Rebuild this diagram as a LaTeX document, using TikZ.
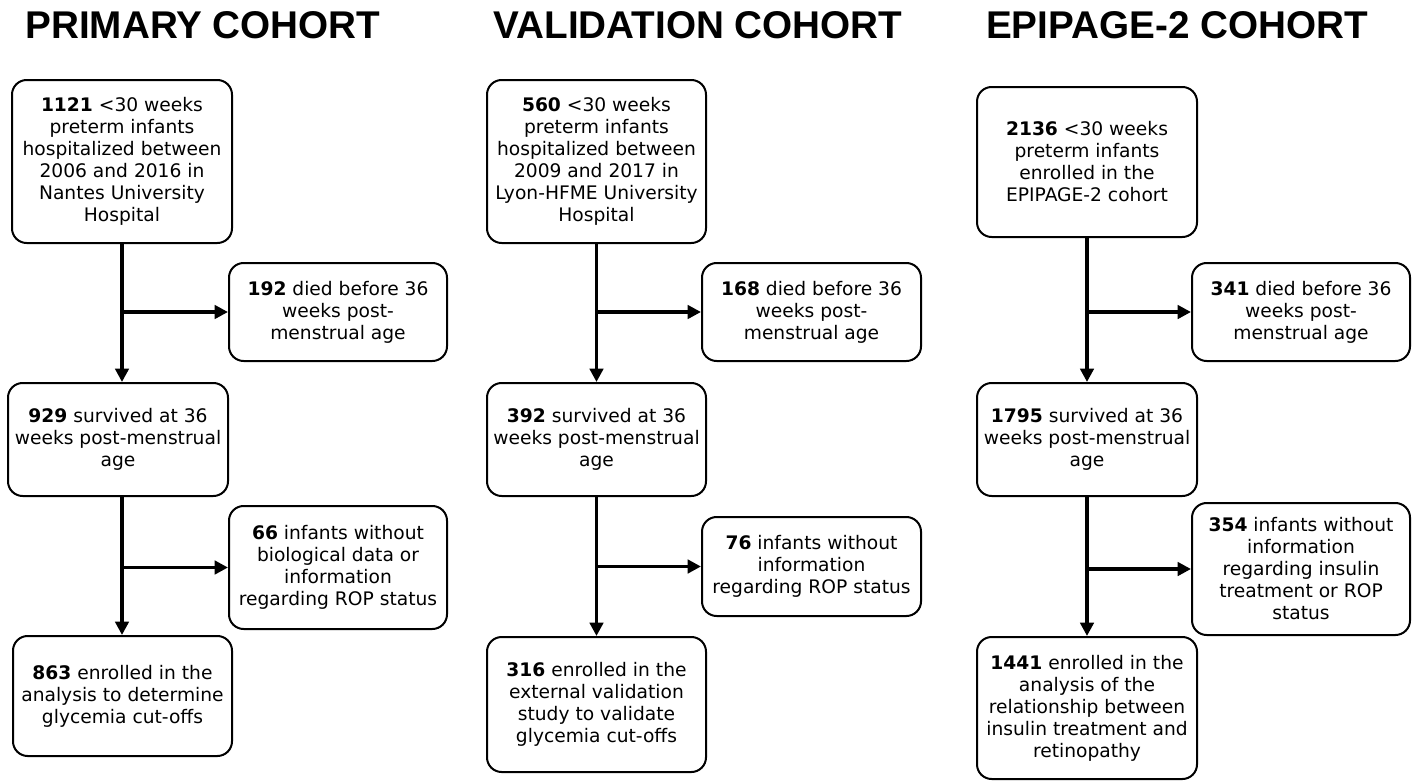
\documentclass[tikz,border=0pt]{standalone}
\usepackage{fontspec}
\setmainfont{DejaVu Sans}
\newfontfamily\titlefont{Liberation Sans}
\usetikzlibrary{arrows.meta}
\usetikzlibrary{calc}

\begin{document}
\begin{tikzpicture}[x=0.75pt,y=-0.75pt,
  box/.style={draw,line width=1.5pt,rounded corners=11pt,align=center,
    inner sep=2pt,font=\fontsize{14}{16.5}\selectfont},
  arr/.style={line width=2.7pt,-{Triangle[length=10pt,width=10pt]}},
  ttl/.style={anchor=base,font=\titlefont\bfseries\fontsize{29}{32}\selectfont}]
\useasboundingbox (0,0) rectangle (1416,782);
\node[ttl] (tA) at (203,38) {PRIMARY COHORT};
\node[ttl] (tB) at (698,38) {VALIDATION COHORT};
\node[ttl] (tC) at (1177,38) {EPIPAGE-2 COHORT};

\node[box,minimum width=165pt,minimum height=122.25pt] (A1) at (122,161.5)
  {\textbf{1121} <30 weeks\\preterm infants\\hospitalized between\\2006 and 2016 in\\Nantes University\\Hospital};
\node[box,minimum width=163.5pt,minimum height=73.5pt] (A2) at (338,312)
  {\textbf{192} died before 36\\weeks post-\\menstrual age};
\node[box,minimum width=165pt,minimum height=84.75pt] (A3) at (118,439.5)
  {\textbf{929} survived at 36\\weeks post-menstrual\\age};
\node[box,minimum width=163.5pt,minimum height=92.25pt] (A4) at (338,567.5)
  {\textbf{66} infants without\\biological data or\\information\\regarding ROP status};
\node[box,minimum width=164.25pt,minimum height=90pt] (A5) at (122.5,696)
  {\textbf{863} enrolled in the\\analysis to determine\\glycemia cut-offs};

\node[box,minimum width=164.25pt,minimum height=122.25pt] (B1) at (596.5,161.5)
  {\textbf{560} <30 weeks\\preterm infants\\hospitalized between\\2009 and 2017 in\\Lyon-HFME University\\Hospital};
\node[box,minimum width=164.25pt,minimum height=73.5pt] (B2) at (811.5,312)
  {\textbf{168} died before 36\\weeks post-\\menstrual age};
\node[box,minimum width=164.25pt,minimum height=84.75pt] (B3) at (596.5,439.5)
  {\textbf{392} survived at 36\\weeks post-menstrual\\age};
\node[box,minimum width=164.25pt,minimum height=74.25pt] (B4) at (811.5,566.5)
  {\textbf{76} infants without\\information\\regarding ROP status};
\node[box,minimum width=164.25pt,minimum height=101.25pt] (B5) at (596.5,704.5)
  {\textbf{316} enrolled in the\\external validation\\study to validate\\glycemia cut-offs};

\node[box,minimum width=165pt,minimum height=112.5pt] (C1) at (1087,162)
  {\textbf{2136} <30 weeks\\preterm infants\\enrolled in the\\EPIPAGE-2 cohort};
\node[box,minimum width=163.5pt,minimum height=73.5pt] (C2) at (1301,312)
  {\textbf{341} died before 36\\weeks post-\\menstrual age};
\node[box,minimum width=165pt,minimum height=84.75pt] (C3) at (1087,439.5)
  {\textbf{1795} survived at 36\\weeks post-menstrual\\age};
\node[box,minimum width=163.5pt,minimum height=99pt] (C4) at (1301,569)
  {\textbf{354} infants without\\information\\regarding insulin\\treatment or ROP\\status};
\node[box,minimum width=165pt,minimum height=106.5pt] (C5) at (1087,708)
  {\textbf{1441} enrolled in the\\analysis of the\\relationship between\\insulin treatment and\\retinopathy};

\foreach \c in {A,B,C}{
  \draw[arr] (\c1.south) -- (\c1.south |- \c3.north);
  \draw[arr] (\c1.south |- \c2.west) -- (\c2.west);
  \draw[arr] (\c1.south |- \c3.south) -- (\c1.south |- \c5.north);
  \draw[arr] (\c1.south |- \c4.west) -- (\c4.west);
}
\end{tikzpicture}
\end{document}
